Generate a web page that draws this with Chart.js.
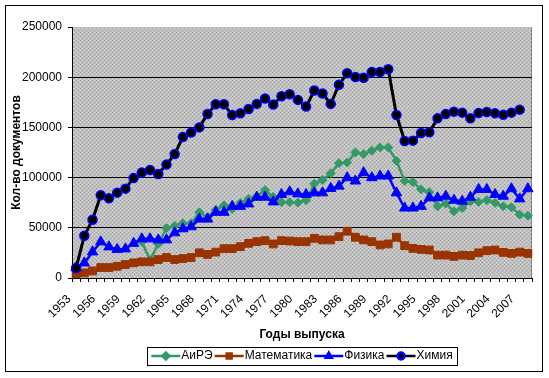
<!DOCTYPE html>
<html>
<head>
<meta charset="utf-8">
<script src="https://cdn.jsdelivr.net/npm/chart.js@4.4.0/dist/chart.umd.min.js"></script>
<style>
html, body { margin: 0; padding: 0; background: #fff; }
</style>
</head>
<body>
<canvas id="myChart" width="549" height="378"></canvas>
<script>
const years = [1953, 1954, 1955, 1956, 1957, 1958, 1959, 1960, 1961, 1962,
	1963, 1964, 1965, 1966, 1967, 1968, 1969, 1970, 1971, 1972,
	1973, 1974, 1975, 1976, 1977, 1978, 1979, 1980, 1981, 1982,
	1983, 1984, 1985, 1986, 1987, 1988, 1989, 1990, 1991, 1992,
	1993, 1994, 1995, 1996, 1997, 1998, 1999, 2000, 2001, 2002,
	2003, 2004, 2005, 2006, 2007, 2008];

const aire = [null, null, null, null, null, null, null, null, 36000, 17800,
	34000, 49600, 52000, 54600, 54600, 65400, 60700, 68100, 72400, 68700,
	74800, 78800, 81500, 87500, 80800, 75500, 75500, 75000, 77500, 93900,
	97600, 104300, 114400, 115000, 125100, 123400, 126800, 130100, 130100, 116700,
	96600, 95600, 88200, 85500, 71400, 74100, 66400, 69700, 76500, 75800,
	77500, 74800, 71400, 70400, 63100, 62100];

const math = [1700, 5000, 7000, 10400, 10400, 11700, 13400, 15100, 16100, 16100,
	18400, 20400, 18400, 19400, 20400, 25100, 23500, 25800, 29200, 29200,
	31200, 34500, 36200, 37200, 33900, 37200, 36800, 36200, 36200, 39500,
	37900, 37900, 41200, 46600, 40600, 37900, 36200, 32900, 33900, 40600,
	32200, 29500, 28500, 27900, 22800, 22800, 21500, 22800, 22400, 25100,
	27200, 27900, 25500, 24500, 25800, 24500];

const physics = [10000, 15000, 26000, 36000, 31000, 28500, 29000, 34500, 39000, 39000,
	38000, 38000, 45000, 49000, 51000, 58700, 58700, 65400, 65400, 71400,
	71400, 73800, 80500, 80500, 75800, 83200, 85900, 83800, 83200, 84800,
	84800, 89200, 91500, 99900, 96600, 104900, 99900, 101600, 101600, 84800,
	69700, 69700, 71400, 79800, 79800, 81500, 77500, 76500, 80500, 88200,
	88200, 83200, 81500, 88900, 78800, 88900];

const chem = [10000, 42000, 58000, 82500, 79500, 85000, 89000, 99600, 105000, 107600,
	103600, 113000, 123400, 140500, 145000, 150000, 163300, 173000, 173000, 162300,
	164000, 168300, 173400, 178700, 172700, 181000, 183000, 177400, 170700, 186800,
	183800, 173400, 192500, 203900, 200200, 199500, 205200, 205200, 207900, 162300,
	136500, 136800, 144500, 145200, 159000, 163300, 165700, 164700, 159000, 164300,
	165300, 164000, 162600, 164700, 167700, null];

const FONT = "'Liberation Sans', Arial, sans-serif";
const BOXW = 24;

function makePattern(ctx) {
	const c = document.createElement('canvas');
	c.width = 4;
	c.height = 4;
	const p = c.getContext('2d');
	p.fillStyle = '#c0c0c0';
	p.fillRect(0, 0, 4, 4);
	p.fillStyle = '#a0a0a0';
	p.fillRect(0, 0, 1, 1);
	p.fillRect(2, 2, 1, 1);
	p.fillStyle = '#d6d6d6';
	p.fillRect(2, 0, 1, 1);
	p.fillRect(0, 2, 1, 1);
	return ctx.createPattern(c, 'repeat');
}

// white page, outer frame and the hatched plot area
const frame = {
	id: 'frame',
	beforeDraw(chart) {
		const ctx = chart.ctx;
		const a = chart.chartArea;
		ctx.save();
		ctx.fillStyle = '#fff';
		ctx.fillRect(0, 0, chart.width, chart.height);
		ctx.strokeStyle = '#000';
		ctx.lineWidth = 1;
		ctx.strokeRect(5.5, 5.5, 537, 366);
		ctx.fillStyle = makePattern(ctx);
		ctx.fillRect(a.left, a.top, a.right - a.left, a.bottom - a.top);
		ctx.strokeStyle = '#808080';
		ctx.beginPath();
		ctx.moveTo(Math.round(a.right) - 0.5, a.top);
		ctx.lineTo(Math.round(a.right) - 0.5, a.bottom);
		ctx.stroke();
		ctx.restore();
	}
};

// legend: centred under the plot, line with marker before each label, box round it
const legendLines = {
	id: 'legendLines',
	afterLayout(chart) {
		const lg = chart.legend;
		const shift = (chart.chartArea.left + chart.chartArea.right) / 2 - (lg.left + lg.right) / 2;
		lg.left += shift;
		lg.right += shift;
	},
	afterDraw(chart) {
		const ctx = chart.ctx;
		const boxes = chart.legend.legendHitBoxes;
		if (!boxes || !boxes.length) return;
		const first = boxes[0];
		const last = boxes[boxes.length - 1];
		const yc = first.top + first.height / 2;
		ctx.save();
		ctx.strokeStyle = '#000';
		ctx.lineWidth = 1;
		const x0 = Math.round(first.left - 4) + 0.5;
		const x1 = Math.round(last.left + last.width + 4) + 0.5;
		ctx.strokeRect(x0, Math.round(yc - 9) + 0.5, x1 - x0, 18);
		boxes.forEach((b, i) => {
			const ds = chart.data.datasets[i];
			ctx.strokeStyle = ds.borderColor;
			ctx.lineWidth = 2.5;
			ctx.beginPath();
			ctx.moveTo(b.left, yc);
			ctx.lineTo(b.left + BOXW + 5, yc);
			ctx.stroke();
			ctx.fillStyle = ds.pointBackgroundColor;
			ctx.strokeStyle = ds.pointBorderColor;
			Chart.helpers.drawPoint(ctx, {pointStyle: ds.pointStyle, radius: 3.5, borderWidth: 1, rotation: 0}, b.left + (BOXW + 5) / 2, yc);
		});
		ctx.restore();
	}
};

const myChart = new Chart(document.getElementById('myChart').getContext('2d'), {
	type: 'line',
	data: {
		labels: years,
		datasets: [{
			label: 'АиРЭ',
			data: aire,
			borderColor: '#339966',
			backgroundColor: '#339966',
			borderWidth: 2.5,
			pointStyle: 'rectRot',
			pointRadius: 4.5,
			pointBackgroundColor: '#339966',
			pointBorderColor: '#339966',
			pointBorderWidth: 1,
			order: 3
		}, {
			label: 'Математика',
			data: math,
			borderColor: '#993300',
			backgroundColor: '#993300',
			borderWidth: 2.5,
			pointStyle: 'rect',
			pointRadius: 5.5,
			pointBackgroundColor: '#993300',
			pointBorderColor: '#993300',
			pointBorderWidth: 1,
			order: 2
		}, {
			label: 'Физика',
			data: physics,
			borderColor: '#0000ff',
			backgroundColor: '#0000ff',
			borderWidth: 2.5,
			pointStyle: 'triangle',
			pointRadius: 6,
			pointBackgroundColor: '#0000ff',
			pointBorderColor: '#0000ff',
			pointBorderWidth: 1,
			order: 1
		}, {
			label: 'Химия',
			data: chem,
			borderColor: '#000000',
			backgroundColor: '#000000',
			borderWidth: 3,
			pointStyle: 'circle',
			pointRadius: 4.5,
			pointBackgroundColor: '#000000',
			pointBorderColor: '#0000ff',
			pointBorderWidth: 1.5,
			order: 0
		}]
	},
	options: {
		responsive: false,
		animation: false,
		devicePixelRatio: 1,
		layout: {padding: {left: 0, right: 17, top: 27, bottom: 6}},
		plugins: {
			tooltip: {enabled: false},
			legend: {
				position: 'bottom',
				labels: {
					color: '#000',
					font: {family: FONT, size: 12},
					boxWidth: BOXW,
					boxHeight: 12,
					padding: 2,
					generateLabels(chart) {
						return chart.data.datasets.map((ds, i) => ({
							text: ds.label,
							fillStyle: 'rgba(0,0,0,0)',
							strokeStyle: 'rgba(0,0,0,0)',
							lineWidth: 0,
							hidden: false,
							datasetIndex: i
						}));
					}
				}
			}
		},
		scales: {
			x: {
				offset: true,
				afterFit(scale) { scale.height = 70; },
				grid: {display: true, drawOnChartArea: false, offset: true, tickLength: 4, color: '#000', tickColor: '#000'},
				border: {display: true, color: '#000', width: 1},
				ticks: {
					autoSkip: false,
					maxRotation: 45,
					minRotation: 45,
					padding: 10,
					labelOffset: -7,
					color: '#000',
					font: {family: FONT, size: 12},
					callback: (v, i) => (i % 3 === 0 ? String(years[i]) : '')
				},
				title: {display: true, text: 'Годы выпуска', color: '#000', font: {family: FONT, size: 12, weight: 'bold'}, padding: {top: 0, bottom: 6}}
			},
			y: {
				min: 0,
				max: 250000,
				afterFit(scale) { scale.width = 72; },
				grid: {
					color: (c) => (c.tick && c.tick.value === 250000 ? 'rgba(0,0,0,0)' : '#000'),
					tickColor: '#000',
					tickLength: 4,
					lineWidth: 1
				},
				border: {display: true, color: '#000', width: 1},
				ticks: {stepSize: 50000, padding: 6, color: '#000', font: {family: FONT, size: 12}, callback: (v) => String(v)},
				title: {display: true, text: 'Кол-во документов', color: '#000', font: {family: FONT, size: 12, weight: 'bold'}, padding: {top: 9, bottom: 0}}
			}
		}
	},
	plugins: [frame, legendLines]
});
</script>
</body>
</html>
